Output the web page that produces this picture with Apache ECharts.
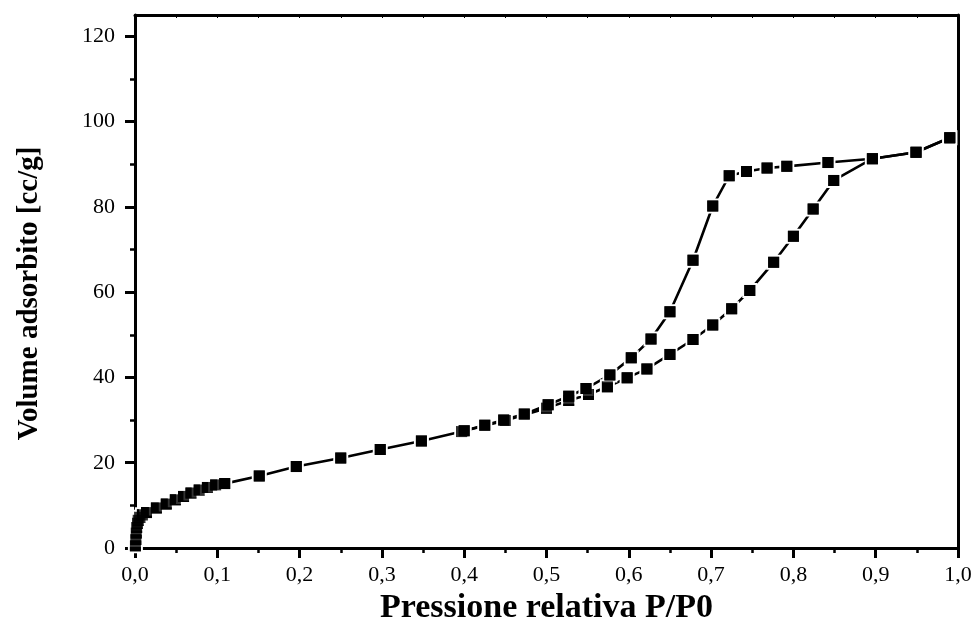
<!DOCTYPE html>
<html>
<head>
<meta charset="utf-8">
<script src="https://cdn.jsdelivr.net/npm/echarts@6/dist/echarts.min.js"></script>
<style>
html,body{margin:0;padding:0;background:#fff;}
#chart{width:975px;height:626px;}
</style>
</head>
<body>
<div id="chart"></div>
<script>
// Adsorption branch
var adsP = [0.0005,0.001,0.0015,0.002,0.003,0.004,0.006,0.009,0.014,0.026,0.038,0.049,0.059,0.068,0.078,0.088,0.098,0.109,0.151,0.196,0.25,0.298,0.348,0.397,0.45,0.5,0.527,0.551,0.574,0.598,0.622,0.65,0.678,0.702,0.725,0.747,0.776,0.80,0.824,0.849,0.896,0.949,0.99];
var adsV = [0.5,2.0,3.5,4.8,5.8,6.5,7.2,7.8,8.3,9.4,10.3,11.3,12.1,12.9,13.6,14.2,14.8,15.1,16.9,19.1,21.1,23.1,25.1,27.3,29.9,32.8,34.6,36.0,37.8,39.9,42.0,45.4,48.9,52.3,56.1,60.4,67.0,73.1,79.5,86.2,91.3,92.8,96.2];
// Desorption branch
var desP = [0.99,0.949,0.896,0.842,0.792,0.768,0.743,0.722,0.702,0.678,0.65,0.627,0.603,0.577,0.548,0.527,0.502,0.473,0.448,0.425,0.40];
var desV = [96.2,92.8,91.3,90.4,89.5,89.1,88.3,87.3,80.2,67.5,55.4,49.0,44.6,40.6,37.4,35.6,33.6,31.4,30.0,28.8,27.5];
// Ticks
var yMajor = [0,20,40,60,80,100,120];
var yMinor = [10,30,50,70,90,110];

function pairs(p, v){ return p.map(function(x,i){ return [x, v[i]]; }); }
var ads = pairs(adsP, adsV), des = pairs(desP, desV);

var FONT = 'Liberation Serif';
var chart = echarts.init(document.getElementById('chart'));
var lineSeries = function(data){
  return {type:'line', data:data, xAxisIndex:0, yAxisIndex:0, symbol:'rect', symbolSize:13,
    showAllSymbol:true, animation:false, z:2,
    lineStyle:{color:'#000', width:2.6},
    itemStyle:{color:'#000', borderColor:'#fff', borderWidth:2}};
};
var dotSeries = function(data){
  return {type:'scatter', data:data, xAxisIndex:0, yAxisIndex:0, symbol:'rect', symbolSize:11,
    animation:false, z:3, itemStyle:{color:'#000'}};
};
chart.setOption({
  animation:false,
  backgroundColor:'#fff',
  grid:{left:135, right:17, top:15, bottom:78, containLabel:false, outerBoundsMode:'none'},
  xAxis:[{
    type:'value', position:'bottom', min:0, max:1, interval:0.1,
    name:'Pressione relativa P/P0', nameLocation:'middle', nameGap:43,
    nameTextStyle:{fontFamily:FONT, fontWeight:'bold', fontSize:34, color:'#000'},
    axisLine:{show:true, onZero:false, lineStyle:{color:'#000', width:3}},
    axisTick:{show:true, inside:false, length:10, lineStyle:{color:'#000', width:3}},
    minorTick:{show:true, splitNumber:2, length:5, lineStyle:{color:'#000', width:2.5}},
    splitLine:{show:false},
    axisLabel:{fontFamily:FONT, fontSize:22, color:'#000', margin:16,
      formatter:function(v){ return v.toFixed(1).replace('.', ','); }}
  },{
    type:'value', position:'top', min:0, max:1, interval:0.05,
    axisLine:{show:true, onZero:false, lineStyle:{color:'#000', width:3}},
    axisTick:{show:true, inside:true, length:3, lineStyle:{color:'#000', width:1}},
    axisLabel:{show:false}, splitLine:{show:false}
  }],
  yAxis:[{
    type:'value', position:'left', min:0, max:125,
    name:'Volume adsorbito [cc/g]', nameLocation:'middle', nameGap:91,
    nameTextStyle:{fontFamily:FONT, fontWeight:'bold', fontSize:29, color:'#000', padding:[0,24,0,0]},
    axisLine:{show:true, onZero:false, lineStyle:{color:'#000', width:3}},
    axisTick:{show:true, inside:false, length:10, customValues:yMajor, lineStyle:{color:'#000', width:3}},
    axisLabel:{fontFamily:FONT, fontSize:22, color:'#000', margin:20, customValues:yMajor},
    splitLine:{show:false}
  },{
    type:'value', position:'left', min:0, max:125,
    axisLine:{show:false},
    axisTick:{show:true, inside:false, length:5, customValues:yMinor, lineStyle:{color:'#000', width:2.5}},
    axisLabel:{show:false}, splitLine:{show:false}
  },{
    type:'value', position:'right', min:0, max:125,
    axisLine:{show:true, onZero:false, lineStyle:{color:'#000', width:3}},
    axisTick:{show:false}, axisLabel:{show:false}, splitLine:{show:false}
  }],
  series:[lineSeries(ads), lineSeries(des), dotSeries(ads), dotSeries(des)]
});
</script>
</body>
</html>
